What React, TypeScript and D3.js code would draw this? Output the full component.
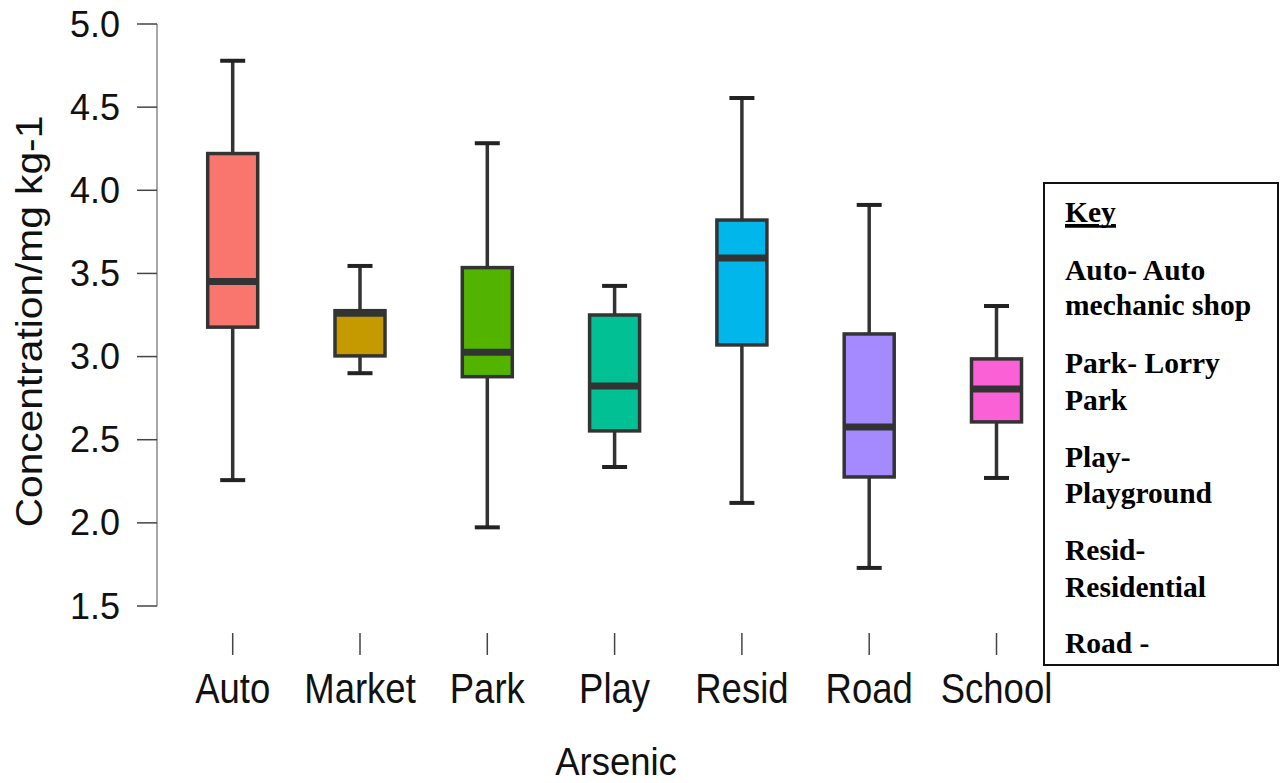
import React from "react";
import * as d3 from "d3";

const categories = ["Auto", "Market", "Park", "Play", "Resid", "Road", "School"];
const whiskerLow = [2.257, 2.9, 1.973, 2.336, 2.12, 1.729, 2.27];
const q1 = [3.177, 3.004, 2.879, 2.553, 3.07, 2.276, 2.607];
const median = [3.451, 3.26, 3.026, 2.823, 3.593, 2.577, 2.805];
const q3 = [4.221, 3.276, 3.535, 3.25, 3.821, 3.136, 2.986];
const whiskerHigh = [4.779, 3.545, 4.283, 3.425, 4.555, 3.912, 3.304];
const colors = ["#F8766D", "#C49A00", "#53B400", "#00C094", "#00B6EB", "#A58AFF", "#FB61D7"];
const yTicks = [1.5, 2.0, 2.5, 3.0, 3.5, 4.0, 4.5, 5.0];
const legendLines = [
  "Auto- Auto",
  "mechanic shop",
  "Park- Lorry",
  "Park",
  "Play-",
  "Playground",
  "Resid-",
  "Residential",
  "Road -",
];
const legendBaselines = [280, 315, 373, 410, 467, 503, 560, 597, 653];

export default function App() {
  const W = 1286;
  const H = 783;
  const x = d3.scalePoint<string>().domain(categories).range([232.7, 996.5]);
  const y = d3.scaleLinear().domain([1.5, 5]).range([606, 24]);
  const boxW = 50;
  const capW = 25;
  const sans = "'Liberation Sans', Arial, Helvetica, sans-serif";
  const serif = "'Liberation Serif', 'Times New Roman', serif";

  return (
    <svg
      width={W}
      height={H}
      style={{ position: "absolute", left: 0, top: 0, background: "#fff" }}
    >
      <defs>
        <clipPath id="legClip">
          <rect x={1044} y={183} width={234} height={482} />
        </clipPath>
      </defs>
      <rect x={0} y={0} width={W} height={H} fill="#fff" />

      {/* Y axis */}
      <line x1={157} x2={157} y1={y(5)} y2={y(1.5)} stroke="#8a8a8a" strokeWidth={1.5} />
      {yTicks.map((t) => (
        <g key={t}>
          <line x1={137} x2={157} y1={y(t)} y2={y(t)} stroke="#444" strokeWidth={1.5} />
          <text
            x={120}
            y={y(t)}
            textAnchor="end"
            dominantBaseline="central"
            fontFamily={sans}
            fontSize={36}
            fill="#111"
          >
            {t.toFixed(1)}
          </text>
        </g>
      ))}
      <text
        transform={`translate(42, 321.5) rotate(-90) scale(1.1, 1)`}
        textAnchor="middle"
        fontFamily={sans}
        fontSize={37}
        fill="#111"
      >
        Concentration/mg kg-1
      </text>

      {/* X ticks & labels */}
      {categories.map((c) => (
        <g key={c}>
          <line x1={x(c)} x2={x(c)} y1={633} y2={655} stroke="#444" strokeWidth={1.5} />
          <text
            transform={`translate(${x(c)}, 703) scale(1, 1.15)`}
            textAnchor="middle"
            fontFamily={sans}
            fontSize={36.5}
            fill="#111"
          >
            {c}
          </text>
        </g>
      ))}
      <text
        transform={`translate(616, 775) scale(1, 1.05)`}
        textAnchor="middle"
        fontFamily={sans}
        fontSize={36.5}
        fill="#111"
      >
        Arsenic
      </text>

      {/* Boxes */}
      {categories.map((c, i) => {
        const cx = x(c) as number;
        return (
          <g key={c}>
            <line x1={cx} x2={cx} y1={y(whiskerHigh[i])} y2={y(q3[i])} stroke="#333" strokeWidth={3.5} />
            <line x1={cx} x2={cx} y1={y(q1[i])} y2={y(whiskerLow[i])} stroke="#333" strokeWidth={3.5} />
            <line x1={cx - capW / 2} x2={cx + capW / 2} y1={y(whiskerHigh[i])} y2={y(whiskerHigh[i])} stroke="#222" strokeWidth={4} />
            <line x1={cx - capW / 2} x2={cx + capW / 2} y1={y(whiskerLow[i])} y2={y(whiskerLow[i])} stroke="#222" strokeWidth={4} />
            <rect
              x={cx - boxW / 2}
              y={y(q3[i])}
              width={boxW}
              height={y(q1[i]) - y(q3[i])}
              fill={colors[i]}
              stroke="#333"
              strokeWidth={3.5}
            />
            <line x1={cx - boxW / 2} x2={cx + boxW / 2} y1={y(median[i])} y2={y(median[i])} stroke="#333" strokeWidth={7} />
          </g>
        );
      })}

      {/* Legend */}
      <rect x={1044} y={183} width={234} height={482} fill="#fff" stroke="#111" strokeWidth={2} />
      <g clipPath="url(#legClip)" fontFamily={serif} fontWeight="bold" fontSize={29.5} fill="#000">
        <text x={1065} y={222} textDecoration="underline">
          Key
        </text>
        <line x1={1065} x2={1116} y1={226.5} y2={226.5} stroke="#000" strokeWidth={2.5} />
        {legendLines.map((l, i) => (
          <text key={i} x={1065} y={legendBaselines[i]}>
            {l}
          </text>
        ))}
      </g>
    </svg>
  );
}
